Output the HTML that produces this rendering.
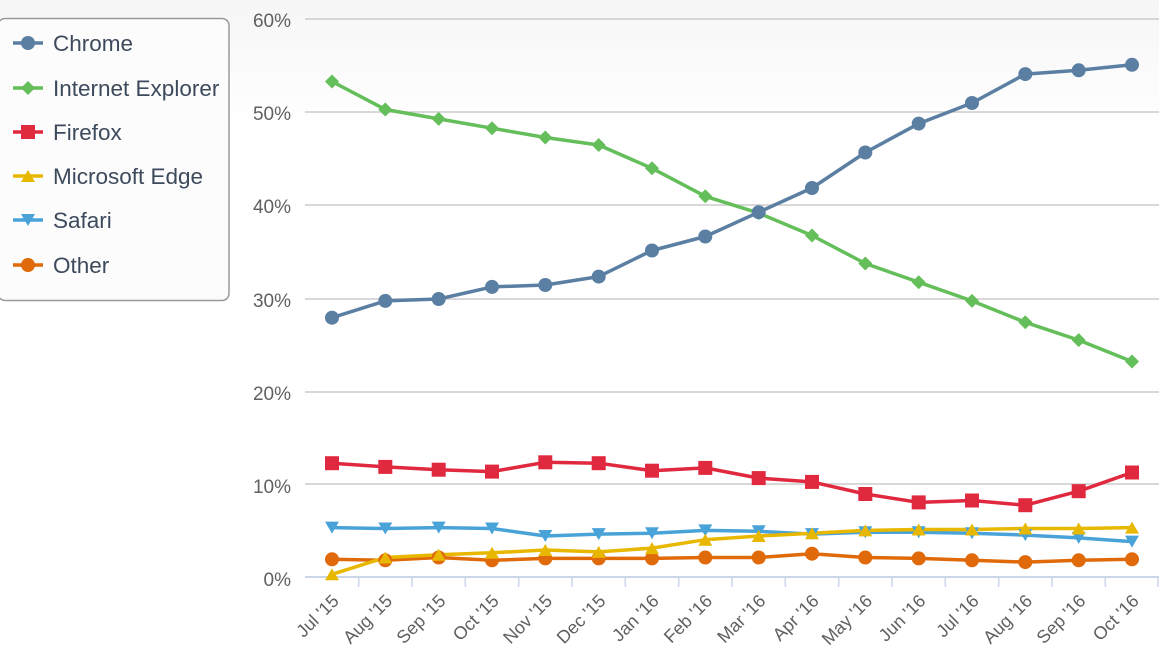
<!DOCTYPE html>
<html><head><meta charset="utf-8"><style>
html,body{margin:0;padding:0;width:1159px;height:655px;overflow:hidden;background:#fff}
svg{display:block;font-family:"Liberation Sans",Arial,sans-serif}
</style></head><body>
<svg width="1159" height="655" xmlns="http://www.w3.org/2000/svg">
<defs>
<linearGradient id="bg" x1="0" y1="0" x2="0" y2="1"><stop offset="0" stop-color="#f6f6f6"/><stop offset="1" stop-color="#ffffff"/></linearGradient>
</defs>
<rect x="0" y="0" width="1159" height="130" fill="url(#bg)"/>
<g stroke="#cccccc" stroke-width="1.5">
<line x1="305" x2="1159" y1="19" y2="19"/><line x1="305" x2="1159" y1="112" y2="112"/><line x1="305" x2="1159" y1="205" y2="205"/><line x1="305" x2="1159" y1="299" y2="299"/><line x1="305" x2="1159" y1="392" y2="392"/><line x1="305" x2="1159" y1="484" y2="484"/>
</g>
<line x1="305" x2="1159" y1="577" y2="577" stroke="#ccd6eb" stroke-width="2"/>
<g stroke="#ccd6eb" stroke-width="1.5">
<line x1="358.7" x2="358.7" y1="577" y2="587"/><line x1="412" x2="412" y1="577" y2="587"/><line x1="465.3" x2="465.3" y1="577" y2="587"/><line x1="518.7" x2="518.7" y1="577" y2="587"/><line x1="572" x2="572" y1="577" y2="587"/><line x1="625.3" x2="625.3" y1="577" y2="587"/><line x1="678.7" x2="678.7" y1="577" y2="587"/><line x1="732" x2="732" y1="577" y2="587"/><line x1="785.3" x2="785.3" y1="577" y2="587"/><line x1="838.7" x2="838.7" y1="577" y2="587"/><line x1="892" x2="892" y1="577" y2="587"/><line x1="945.3" x2="945.3" y1="577" y2="587"/><line x1="998.7" x2="998.7" y1="577" y2="587"/><line x1="1052" x2="1052" y1="577" y2="587"/><line x1="1105.3" x2="1105.3" y1="577" y2="587"/><line x1="1158" x2="1158" y1="577" y2="587"/>
</g>
<g font-size="19" fill="#606060" text-anchor="end">
<text x="291" y="27">60%</text><text x="291" y="120">50%</text><text x="291" y="213">40%</text><text x="291" y="307">30%</text><text x="291" y="400">20%</text><text x="291" y="493">10%</text><text x="291" y="586">0%</text>
</g>
<g font-size="18" fill="#606060" text-anchor="end">
<text transform="translate(340,602) rotate(-45)">Jul '15</text>
<text transform="translate(393.3,602) rotate(-45)">Aug '15</text>
<text transform="translate(446.7,602) rotate(-45)">Sep '15</text>
<text transform="translate(500,602) rotate(-45)">Oct '15</text>
<text transform="translate(553.3,602) rotate(-45)">Nov '15</text>
<text transform="translate(606.7,602) rotate(-45)">Dec '15</text>
<text transform="translate(660,602) rotate(-45)">Jan '16</text>
<text transform="translate(713.3,602) rotate(-45)">Feb '16</text>
<text transform="translate(766.7,602) rotate(-45)">Mar '16</text>
<text transform="translate(820,602) rotate(-45)">Apr '16</text>
<text transform="translate(873.3,602) rotate(-45)">May '16</text>
<text transform="translate(926.7,602) rotate(-45)">Jun '16</text>
<text transform="translate(980,602) rotate(-45)">Jul '16</text>
<text transform="translate(1033.3,602) rotate(-45)">Aug '16</text>
<text transform="translate(1086.7,602) rotate(-45)">Sep '16</text>
<text transform="translate(1140,602) rotate(-45)">Oct '16</text>
</g>
<g fill="none" stroke-width="3.5" stroke-linejoin="round">
<polyline stroke="#e06a0a" points="332,559.3 385.3,560.3 438.7,557.5 492,560.3 545.3,558.4 598.7,558.4 652,558.4 705.3,557.5 758.7,557.5 812,553.7 865.3,557.5 918.7,558.4 972,560.3 1025.3,562.1 1078.7,560.3 1132,559.3"/>
<polyline stroke="#4aa3d8" points="332,527.6 385.3,528.5 438.7,527.6 492,528.5 545.3,536 598.7,534.1 652,533.2 705.3,530.4 758.7,531.3 812,534.1 865.3,532.3 918.7,532.3 972,533.2 1025.3,535.1 1078.7,537.9 1132,541.6"/>
<polyline stroke="#e8b800" points="332,574.3 385.3,557.5 438.7,554.7 492,552.8 545.3,550 598.7,551.9 652,548.1 705.3,539.7 758.7,536 812,533.2 865.3,530.4 918.7,529.5 972,529.5 1025.3,528.5 1078.7,528.5 1132,527.6"/>
<polyline stroke="#e0293e" points="332,463.2 385.3,466.9 438.7,469.7 492,471.6 545.3,462.3 598.7,463.2 652,470.7 705.3,467.9 758.7,478.1 812,481.9 865.3,494 918.7,502.4 972,500.5 1025.3,505.2 1078.7,491.2 1132,472.5"/>
<polyline stroke="#64be5a" points="332,81.5 385.3,109.5 438.7,118.9 492,128.2 545.3,137.5 598.7,145 652,168.3 705.3,196.3 758.7,213.1 812,235.5 865.3,263.5 918.7,282.2 972,300.9 1025.3,322.3 1078.7,340.1 1132,361.5"/>
<polyline stroke="#5b7fa3" points="332,317.7 385.3,300.9 438.7,299 492,286.9 545.3,285 598.7,276.6 652,250.5 705.3,236.5 758.7,212.2 812,188 865.3,152.5 918.7,123.6 972,103 1025.3,74.1 1078.7,70.3 1132,64.8"/>
</g>
<g fill="#e06a0a">
<circle cx="332" cy="559.3" r="7"/><circle cx="385.3" cy="560.3" r="7"/><circle cx="438.7" cy="557.5" r="7"/><circle cx="492" cy="560.3" r="7"/><circle cx="545.3" cy="558.4" r="7"/><circle cx="598.7" cy="558.4" r="7"/><circle cx="652" cy="558.4" r="7"/><circle cx="705.3" cy="557.5" r="7"/><circle cx="758.7" cy="557.5" r="7"/><circle cx="812" cy="553.7" r="7"/><circle cx="865.3" cy="557.5" r="7"/><circle cx="918.7" cy="558.4" r="7"/><circle cx="972" cy="560.3" r="7"/><circle cx="1025.3" cy="562.1" r="7"/><circle cx="1078.7" cy="560.3" r="7"/><circle cx="1132" cy="559.3" r="7"/>
</g>
<g fill="#4aa3d8">
<path d="M325,521.6h14l-7,12z"/><path d="M378.3,522.5h14l-7,12z"/><path d="M431.7,521.6h14l-7,12z"/><path d="M485,522.5h14l-7,12z"/><path d="M538.3,530h14l-7,12z"/><path d="M591.7,528.1h14l-7,12z"/><path d="M645,527.2h14l-7,12z"/><path d="M698.3,524.4h14l-7,12z"/><path d="M751.7,525.3h14l-7,12z"/><path d="M805,528.1h14l-7,12z"/><path d="M858.3,526.3h14l-7,12z"/><path d="M911.7,526.3h14l-7,12z"/><path d="M965,527.2h14l-7,12z"/><path d="M1018.3,529.1h14l-7,12z"/><path d="M1071.7,531.9h14l-7,12z"/><path d="M1125,535.6h14l-7,12z"/>
</g>
<g fill="#e8b800">
<path d="M325,580.3h14l-7,-12z"/><path d="M378.3,563.5h14l-7,-12z"/><path d="M431.7,560.7h14l-7,-12z"/><path d="M485,558.8h14l-7,-12z"/><path d="M538.3,556h14l-7,-12z"/><path d="M591.7,557.9h14l-7,-12z"/><path d="M645,554.1h14l-7,-12z"/><path d="M698.3,545.7h14l-7,-12z"/><path d="M751.7,542h14l-7,-12z"/><path d="M805,539.2h14l-7,-12z"/><path d="M858.3,536.4h14l-7,-12z"/><path d="M911.7,535.5h14l-7,-12z"/><path d="M965,535.5h14l-7,-12z"/><path d="M1018.3,534.5h14l-7,-12z"/><path d="M1071.7,534.5h14l-7,-12z"/><path d="M1125,533.6h14l-7,-12z"/>
</g>
<g fill="#e0293e">
<rect x="325" y="456.2" width="14" height="14"/><rect x="378.3" y="459.9" width="14" height="14"/><rect x="431.7" y="462.7" width="14" height="14"/><rect x="485" y="464.6" width="14" height="14"/><rect x="538.3" y="455.3" width="14" height="14"/><rect x="591.7" y="456.2" width="14" height="14"/><rect x="645" y="463.7" width="14" height="14"/><rect x="698.3" y="460.9" width="14" height="14"/><rect x="751.7" y="471.1" width="14" height="14"/><rect x="805" y="474.9" width="14" height="14"/><rect x="858.3" y="487" width="14" height="14"/><rect x="911.7" y="495.4" width="14" height="14"/><rect x="965" y="493.5" width="14" height="14"/><rect x="1018.3" y="498.2" width="14" height="14"/><rect x="1071.7" y="484.2" width="14" height="14"/><rect x="1125" y="465.5" width="14" height="14"/>
</g>
<g fill="#64be5a">
<path d="M332,74.5l7,7l-7,7l-7,-7z"/><path d="M385.3,102.5l7,7l-7,7l-7,-7z"/><path d="M438.7,111.9l7,7l-7,7l-7,-7z"/><path d="M492,121.2l7,7l-7,7l-7,-7z"/><path d="M545.3,130.5l7,7l-7,7l-7,-7z"/><path d="M598.7,138l7,7l-7,7l-7,-7z"/><path d="M652,161.3l7,7l-7,7l-7,-7z"/><path d="M705.3,189.3l7,7l-7,7l-7,-7z"/><path d="M758.7,206.1l7,7l-7,7l-7,-7z"/><path d="M812,228.5l7,7l-7,7l-7,-7z"/><path d="M865.3,256.5l7,7l-7,7l-7,-7z"/><path d="M918.7,275.2l7,7l-7,7l-7,-7z"/><path d="M972,293.9l7,7l-7,7l-7,-7z"/><path d="M1025.3,315.3l7,7l-7,7l-7,-7z"/><path d="M1078.7,333.1l7,7l-7,7l-7,-7z"/><path d="M1132,354.5l7,7l-7,7l-7,-7z"/>
</g>
<g fill="#5b7fa3">
<circle cx="332" cy="317.7" r="7"/><circle cx="385.3" cy="300.9" r="7"/><circle cx="438.7" cy="299" r="7"/><circle cx="492" cy="286.9" r="7"/><circle cx="545.3" cy="285" r="7"/><circle cx="598.7" cy="276.6" r="7"/><circle cx="652" cy="250.5" r="7"/><circle cx="705.3" cy="236.5" r="7"/><circle cx="758.7" cy="212.2" r="7"/><circle cx="812" cy="188" r="7"/><circle cx="865.3" cy="152.5" r="7"/><circle cx="918.7" cy="123.6" r="7"/><circle cx="972" cy="103" r="7"/><circle cx="1025.3" cy="74.1" r="7"/><circle cx="1078.7" cy="70.3" r="7"/><circle cx="1132" cy="64.8" r="7"/>
</g>
<rect x="-2" y="18.5" width="231" height="282" rx="7" fill="#fcfcfc" stroke="#999" stroke-width="1.5"/>
<g stroke-width="3.5">
<line x1="13" x2="43" y1="43" y2="43" stroke="#5b7fa3"/><line x1="13" x2="43" y1="88" y2="88" stroke="#64be5a"/><line x1="13" x2="43" y1="132" y2="132" stroke="#e0293e"/><line x1="13" x2="43" y1="176" y2="176" stroke="#e8b800"/><line x1="13" x2="43" y1="220" y2="220" stroke="#4aa3d8"/><line x1="13" x2="43" y1="265" y2="265" stroke="#e06a0a"/>
</g>
<circle cx="28" cy="43" r="7" fill="#5b7fa3"/>
<path d="M28,81l7,7l-7,7l-7,-7z" fill="#64be5a"/>
<rect x="21" y="125" width="14" height="14" fill="#e0293e"/>
<path d="M21,182h14l-7,-12z" fill="#e8b800"/>
<path d="M21,214h14l-7,12z" fill="#4aa3d8"/>
<circle cx="28" cy="265" r="7" fill="#e06a0a"/>
<g font-size="22.5" fill="#3d4a5c">
<text x="53" y="51">Chrome</text><text x="53" y="96">Internet Explorer</text><text x="53" y="140">Firefox</text><text x="53" y="184">Microsoft Edge</text><text x="53" y="228">Safari</text><text x="53" y="273">Other</text>
</g>
</svg>
</body></html>
